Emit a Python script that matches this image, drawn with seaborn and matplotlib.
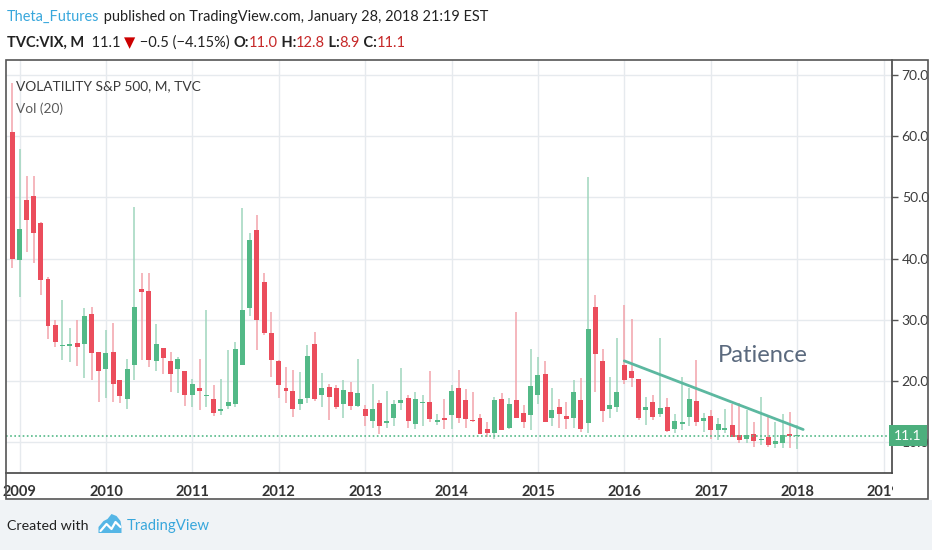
import numpy as np
import pandas as pd
import matplotlib
matplotlib.use("Agg")
import matplotlib.pyplot as plt
import matplotlib.dates as mdates
import matplotlib.transforms as mtransforms
from matplotlib.patches import Rectangle, Polygon
import seaborn as sns

# monthly TVC:VIX candles, Dec 2008 .. Jan 2018
months = pd.date_range("2008-12-01", "2018-01-01", freq="MS")
opens = [60.6, 39.7, 49.6, 50.2, 45.8, 36.7, 29.1, 25.7, 25.8, 26.2, 26.1, 31.0, 24.7,
         21.9, 24.7, 20.2, 17.1, 22.6, 35.1, 34.7, 23.2, 25.4, 23.2, 21.9, 21.6,
         17.8, 18.9, 17.6, 17.1, 15.1, 15.9, 16.2, 22.7, 32.0, 44.6, 36.2, 27.9,
         23.2, 18.8, 18.4, 16.3, 17.3, 26.1, 17.8, 19.1, 18.8, 16.2, 18.2, 16.0,
         15.5, 13.5, 16.4, 13.2, 13.9, 16.5, 17.3, 13.0, 16.4, 16.6, 13.4, 14.0,
         14.4, 18.9, 16.9, 13.7, 13.9, 12.1, 11.5, 17.1, 12.3, 16.9, 14.8, 14.4,
         17.8, 21.1, 14.0, 15.7, 14.3, 13.9, 16.9, 13.1, 32.1, 23.3, 15.5, 15.8,
         22.7, 21.6, 20.3, 15.3, 16.6, 14.7, 15.8, 12.1, 13.0, 14.1, 16.8, 13.5,
         14.3, 12.0, 12.0, 12.9, 11.2, 10.6, 11.4, 10.4, 10.8, 9.7, 9.9, 11.3,
         11.0]
highs = [68.6, 57.8, 53.4, 53.4, 46.0, 37.0, 30.0, 33.3, 28.6, 30.0, 31.9, 32.1, 24.7,
         28.3, 29.4, 20.2, 23.6, 48.4, 37.6, 37.7, 29.3, 25.4, 24.7, 24.0, 21.7,
         20.3, 23.6, 31.6, 19.3, 20.4, 25.1, 26.3, 48.2, 44.1, 47.1, 37.7, 31.3,
         23.4, 22.3, 21.8, 21.5, 25.9, 28.0, 21.4, 19.5, 19.3, 20.2, 19.8, 23.6,
         16.1, 19.5, 16.9, 18.4, 16.9, 22.2, 17.7, 18.2, 17.7, 21.6, 14.7, 17.1,
         19.3, 21.8, 18.7, 18.2, 14.7, 13.3, 17.4, 18.0, 17.2, 31.3, 16.1, 25.3,
         23.9, 23.2, 18.8, 17.1, 16.6, 20.2, 20.5, 53.3, 34.0, 25.3, 20.7, 27.0,
         32.4, 30.1, 20.4, 17.4, 17.7, 27.0, 17.2, 14.7, 20.7, 18.8, 23.4, 14.8,
         15.3, 14.0, 15.4, 16.2, 16.4, 15.3, 13.4, 17.4, 14.2, 13.4, 14.7, 14.9,
         12.8]
lows = [38.4, 33.8, 41.1, 39.2, 34.1, 26.8, 25.5, 23.5, 23.1, 22.5, 20.5, 20.2, 16.6,
        17.2, 16.6, 16.5, 15.5, 20.2, 23.4, 22.3, 21.7, 21.1, 18.3, 18.0, 15.9,
        15.8, 15.3, 15.8, 14.3, 14.5, 15.4, 15.8, 22.6, 30.7, 25.0, 27.5, 20.7,
        17.3, 16.5, 14.2, 15.3, 16.5, 16.8, 15.8, 13.7, 15.4, 13.9, 15.2, 15.8,
        12.6, 12.4, 11.4, 12.3, 12.6, 15.3, 12.3, 12.1, 12.6, 13.4, 12.9, 12.1,
        12.1, 13.2, 12.4, 13.3, 11.4, 10.9, 10.6, 12.0, 12.1, 14.0, 12.4, 12.0,
        16.3, 13.3, 12.7, 12.3, 12.2, 12.4, 11.7, 11.6, 18.3, 13.4, 14.0, 15.0,
        19.6, 19.0, 13.7, 12.8, 13.6, 14.2, 11.7, 11.5, 12.0, 12.6, 12.6, 11.7,
        10.6, 10.4, 11.5, 10.8, 9.9, 9.9, 9.3, 9.5, 9.3, 9.0, 9.0, 9.0,
        8.9]
closes = [40.00, 44.84, 46.35, 44.14, 36.50, 28.92, 26.35, 25.92, 26.01, 25.61, 30.69, 24.51, 21.68,
          24.62, 19.50, 17.59, 22.05, 32.07, 34.54, 23.50, 26.05, 23.70, 21.20, 23.54, 17.75,
          19.53, 18.35, 17.74, 14.75, 15.45, 16.52, 25.25, 31.62, 42.96, 29.96, 27.80, 23.40,
          19.44, 18.43, 15.50, 17.15, 24.06, 17.08, 18.93, 17.47, 15.73, 18.60, 15.87, 18.02,
          14.28, 15.51, 12.70, 13.52, 16.30, 16.86, 13.45, 17.01, 16.60, 13.75, 13.70, 13.72,
          18.41, 14.00, 13.88, 13.41, 11.40, 11.57, 16.95, 12.09, 16.31, 14.03, 13.33, 19.20,
          20.97, 13.34, 15.29, 14.55, 13.84, 18.23, 12.12, 28.43, 24.50, 15.07, 16.13, 18.21,
          20.20, 20.55, 13.95, 15.70, 14.19, 15.63, 11.87, 13.42, 13.29, 17.06, 13.33, 14.04,
          11.99, 12.92, 12.37, 10.82, 10.41, 11.18, 10.26, 10.59, 9.51, 10.18, 11.28, 11.04,
          11.1]

last_price = 11.1
price_ticks = [10, 20, 30, 40, 50, 60, 70]
years = list(range(2009, 2020))

trend_dates = ["2016-01-01", "2018-01-26"]
trend_values = [23.3, 12.1]

UP = "#53b987"
DOWN = "#eb4d5c"
UP_WICK = "#9fd6bd"
DOWN_WICK = "#f3a3ab"
TEXT = "#333333"

sns.set_theme(style="white")
plt.rcParams["font.family"] = ["Lato", "DejaVu Sans"]

W, H = 932, 550
fig = plt.figure(figsize=(W / 100, H / 100), dpi=100)
fig.patch.set_facecolor("white")
pix = mtransforms.IdentityTransform()
renderer = fig.canvas.get_renderer()

# footer band
fig.patches.append(Rectangle((0, 0), 1, 50 / H, transform=fig.transFigure,
                             fc="#f0f3f6", ec="none", zorder=0))

ax = fig.add_axes([6 / W, 77 / H, 886 / W, 413 / H])
ax.set_facecolor("white")

x = mdates.date2num(months)
o = np.array(opens)
c = np.array(closes)
up = c >= o
body_lo = np.minimum(o, c)
body_h = np.maximum(np.abs(c - o), 0.2)

ax.vlines(x, lows, highs, colors=np.where(up, UP_WICK, DOWN_WICK), lw=1.1, zorder=2)
ax.bar(x, body_h, bottom=body_lo, width=21, color=np.where(up, UP, DOWN),
       linewidth=0, zorder=3)

sns.lineplot(x=mdates.date2num(pd.to_datetime(trend_dates)), y=trend_values, ax=ax,
             color="#5cb8a0", lw=2, zorder=4)

ax.axhline(last_price, color=UP, ls=(0, (1, 1.5)), lw=1.2, zorder=4)

x0 = mdates.date2num(pd.Timestamp("2009-01-01"))
ax.set_xlim(x0 - 57.5, mdates.date2num(pd.Timestamp("2019-01-01")) + 35.5)
ax.set_ylim(5.0, 72.4)

ax.set_xticks(mdates.date2num(pd.to_datetime([f"{yr}-01-01" for yr in years])))
ax.set_xticklabels([str(yr) for yr in years])
ax.yaxis.tick_right()
ax.set_yticks(price_ticks)
ax.set_yticklabels([f"{v:.1f}" for v in price_ticks])
ax.tick_params(axis="x", length=4, width=1, color="#555", pad=5,
               labelsize=10.5, labelcolor=TEXT)
ax.tick_params(axis="y", length=4, width=1, color="#555", pad=3,
               labelsize=10, labelcolor="#3c3c3c", right=True)
for lab in ax.get_xticklabels():
    lab.set_fontweight("bold")

ax.grid(True, color="#e6eaee", lw=1)
ax.set_axisbelow(True)
for side in ["left", "top"]:
    ax.spines[side].set_visible(False)
for side in ["right", "bottom"]:
    ax.spines[side].set_color("#444")
    ax.spines[side].set_linewidth(1.2)

ax.annotate(f"{last_price:.1f}", xy=(1, last_price), xycoords=("axes fraction", "data"),
            xytext=(16, 0), textcoords="offset pixels", ha="center", va="center",
            fontsize=10, color="white", zorder=10, annotation_clip=False,
            bbox=dict(boxstyle="square,pad=0.35", fc="#4caf7d", ec="none"))

# cover the part of the time scale under the price scale (clips "2019")
fig.patches.append(Rectangle((893 / W, 52 / H), 35 / W, 24 / H, transform=fig.transFigure,
                             fc="white", ec="none", zorder=5))
# chart frame
fig.patches.append(Rectangle((6, 51), 922, 439, transform=pix, fill=False,
                             ec="#555555", lw=1.2, zorder=6))


def runs(x_pix, y_pix, parts, size, width=None, grow=1.12):
    # draw a row of coloured text pieces, roughly fitted to a pixel width
    texts = [fig.text(0, H - y_pix, s, transform=pix, fontsize=size, color=color,
                      fontweight=weight, va="baseline") for s, color, weight in parts]
    if width is not None:
        total = sum(t.get_window_extent(renderer).width for t in texts)
        for t in texts:
            t.set_fontsize(size * width / total * grow)
    cur = x_pix
    for t in texts:
        t.set_x(cur)
        cur = t.get_window_extent(renderer).x1
    return cur


runs(7, 21, [("Theta_Futures", "#38a7dc", "normal"),
             (" published on TradingView.com, January 28, 2018 21:19 EST", "#222222", "normal")],
     12, width=427)
RED = "#c62828"
runs(7, 47, [("TVC:VIX, M", "#222222", "bold"), ("  11.1 ", "#222222", "normal"),
             ("\u25bc", "#cc0000", "normal"), (" \u22120.5 (\u22124.15%) ", "#222222", "normal"),
             ("O:", "#222222", "bold"), ("11.0", RED, "normal"),
             (" H:", "#222222", "bold"), ("12.8", RED, "normal"),
             (" L:", "#222222", "bold"), ("8.9", RED, "normal"),
             (" C:", "#222222", "bold"), ("11.1", RED, "normal")], 11, width=355)

runs(16, 90, [("VOLATILITY S&P 500, M, TVC", "#3a3a3a", "normal")], 11.5, width=167)
runs(16, 113, [("Vol (20)", "#5a5a5a", "normal")], 11.5, width=42)

patience = ax.text(0.804, 0.269, "Patience", transform=ax.transAxes, fontsize=19,
                   color="#5b6a7e", ha="left", va="baseline")
pw = patience.get_window_extent(renderer).width
patience.set_fontsize(19 * 85 / pw * 1.06)

end = runs(7, 530, [("Created with", "#222222", "normal")], 11.5, width=73)
# TradingView cloud logo
lx = end + 10
logo = Polygon([(lx + px, H - py) for px, py in
                [(0, 533), (0, 527), (5, 521), (9, 519), (13, 514), (18, 516),
                 (22, 521), (23, 527), (23, 533)]], closed=True, transform=pix,
               fc="#55b6e6", ec="none")
fig.patches.append(logo)
fig.lines.append(plt.Line2D([lx + 2, lx + 8, lx + 13, lx + 17, lx + 22],
                            [H - 531, H - 524, H - 529, H - 522, H - 527],
                            transform=pix, color="white", lw=1.6))
runs(lx + 28, 530, [("TradingView", "#38a7dc", "normal")], 11.5, width=74)

fig.savefig("out.png", dpi=100)
